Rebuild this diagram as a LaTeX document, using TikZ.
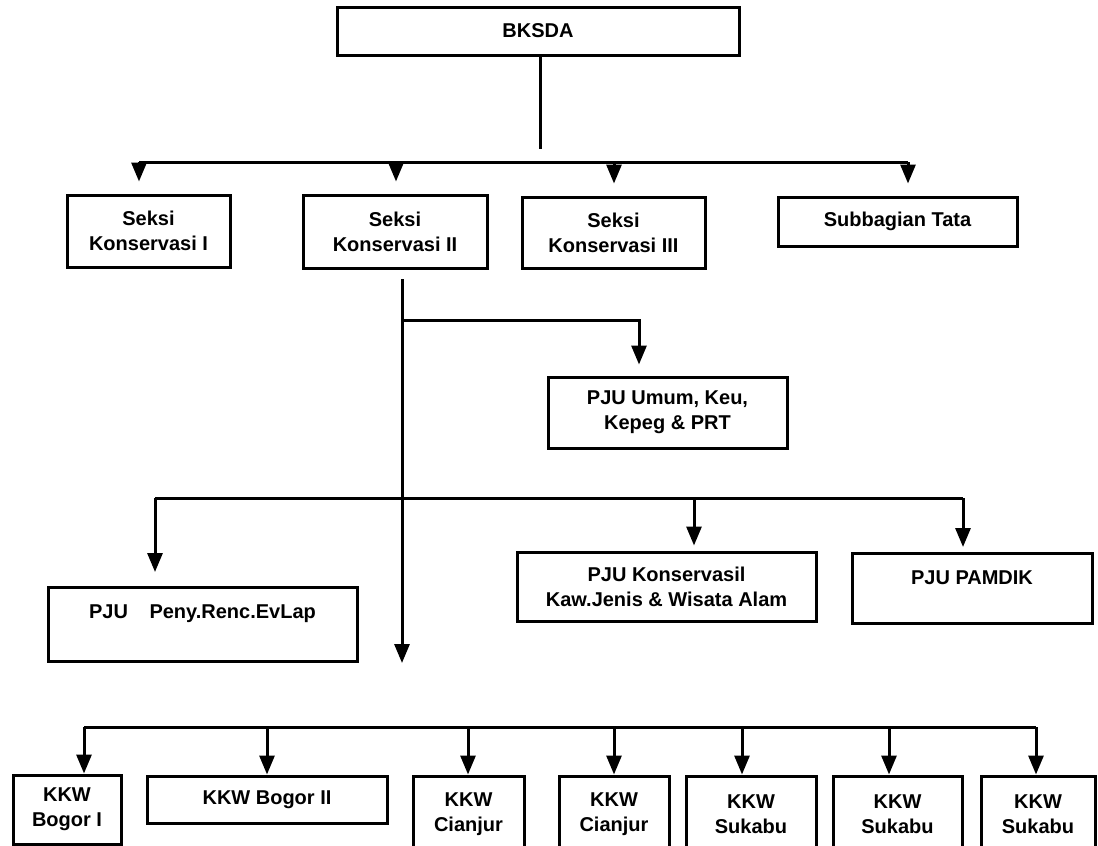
\documentclass[tikz,border=0pt]{standalone}
\usepackage{fontspec}
\setmainfont{Liberation Sans}
\usetikzlibrary{arrows.meta}
\begin{document}
\begin{tikzpicture}[x=1pt,y=-1pt,
	box/.style={draw,line width=3pt,align=center,inner sep=0pt,font=\bfseries\fontsize{20}{25}\selectfont},
	link/.style={line width=3pt},
	arr/.style={link,-{Triangle[length=19pt,width=15pt]}}]
	\clip (0,0) rectangle (1098,846);
	\node[box,minimum width=402pt,minimum height=48pt] (bksda) at (538,31) {BKSDA};
	\node[box,minimum width=163pt,minimum height=72pt] (sk1) at (148.5,231) {Seksi\\Konservasi I};
	\node[box,minimum width=184pt,minimum height=73pt] (sk2) at (395,231.5) {Seksi\\Konservasi II};
	\node[box,minimum width=183pt,minimum height=71pt] (sk3) at (613.5,232.5) {Seksi\\Konservasi III};
	\node[box,minimum width=239pt,minimum height=49pt] (sub) at (897.5,221.5) {Subbagian Tata};
	\node[box,minimum width=239pt,minimum height=71pt] (umum) at (667.5,412.5) {PJU Umum, Keu,\\Kepeg \& PRT};
	\node[box,minimum width=309pt,text height=31pt,text depth=43pt,anchor=north] (peny) at (202.5,586) {PJU\hspace{16pt} Peny.Renc.EvLap};
	\node[box,minimum width=299pt,minimum height=69pt] (kons) at (666.5,586.5) {PJU Konservasil\\Kaw.Jenis \& Wisata Alam};
	\node[box,minimum width=240pt,text height=31pt,text depth=39pt,anchor=north] (pamdik) at (972,552) {PJU PAMDIK};
	\node[box,minimum width=108pt,minimum height=69pt] (kkw1) at (67,809.5) {KKW\\Bogor I};
	\node[box,minimum width=240pt,minimum height=47pt] (kkw2) at (267,799.5) {KKW Bogor II};
	\foreach \i/\xx/\ww/\name in {3/468.5/111/Cianjur,4/614/110/Cianjur,5/751/130/Sukabu,6/897.5/129/Sukabu,7/1038/114/Sukabu}
		\node[box,minimum width=\ww pt,minimum height=76pt] (kkw\i) at (\xx,814) {KKW\\\name};
	\coordinate (top) at (540,149);
	\draw[link] (bksda.south -| top) -- (top);
	\foreach \xx/\nn in {139/sk1,396/sk2,614/sk3,908/sub}{
		\coordinate (a\nn) at (\xx,162);
		\draw[arr,shorten >=12pt] (a\nn) -- (a\nn |- \nn.north);
	}
	\draw[link] (ask1) -- (asub);
	\coordinate (t0) at (402,279);
	\coordinate (t1) at (402,320);
	\coordinate (t3) at (402,663);
	\coordinate (b1) at (639,320);
	\draw[arr] (t0) -- (t3);
	\draw[arr,shorten >=11pt] (t1) -- (b1) -- (b1 |- umum.north);
	\foreach \xx/\nn/\ss in {155/peny/14,694/kons/5,963/pamdik/5}{
		\coordinate (c\nn) at (\xx,498);
		\draw[arr,shorten >=\ss pt] (c\nn) -- (c\nn |- \nn.north);
	}
	\draw[link] (cpeny) -- (cpamdik);
	\foreach \xx/\i in {84/1,267/2,468/3,614/4,742/5,889/6,1036/7}{
		\coordinate (k\i) at (\xx,727);
		\draw[arr] (k\i) -- (k\i |- kkw\i.north);
	}
	\draw[link] (k1) -- (k7);
\end{tikzpicture}
\end{document}
